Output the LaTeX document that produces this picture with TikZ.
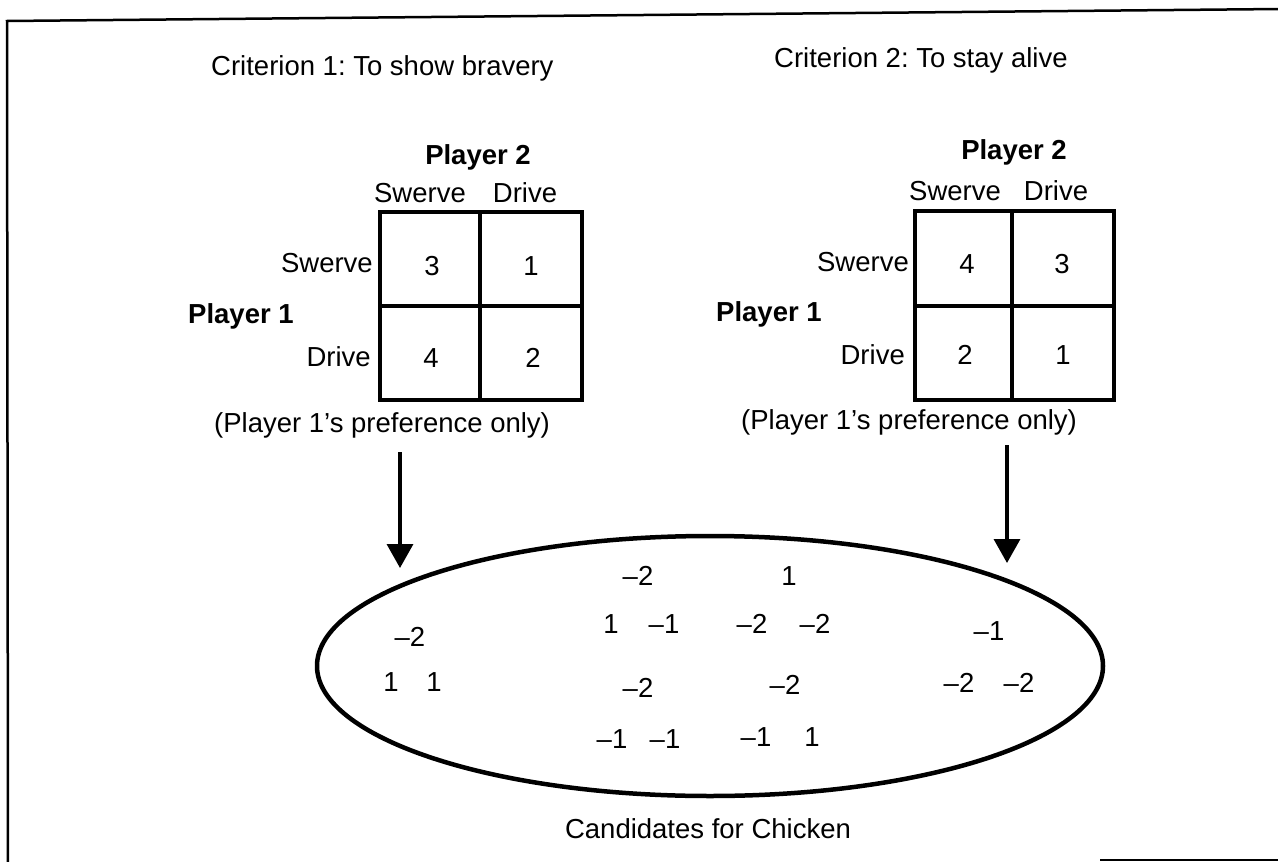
\documentclass[tikz,border=0pt]{standalone}
\usepackage{fontspec}
\setmainfont{Liberation Sans}
\usetikzlibrary{arrows.meta,shapes.geometric}
\frenchspacing
\begin{document}
\begin{tikzpicture}[x=1pt,y=-1pt,
  every node/.style={inner sep=0pt, font=\fontsize{27.5}{33}\selectfont},
  lbl/.style={anchor=base},
  bl/.style={anchor=base, font=\fontsize{27.5}{33}\selectfont\bfseries},
  grid/.style={line width=4pt},
  arr/.style={line width=3.5pt, -{Triangle[width=26pt,length=24pt]}},
  frame/.style={line width=2.5pt}]
\useasboundingbox (0,0) rectangle (1278,862);
% frame
\draw[frame] (1280,9) -- (7,21) -- (8,864);
\draw[frame] (1100,860) -- (1280,860);
% titles
\node[anchor=base west] (t1) at (211,75) {Criterion 1: To show bravery};
\node[anchor=base west] (t2) at (774,67) {Criterion 2: To stay alive};
% ---- left matrix
\node[bl] (lp2) at (478,164) {Player 2};
\node[lbl] (lcs) at (420,202) {Swerve};
\node[lbl] (lcd) at (525,202) {Drive};
\node[anchor=base east] (lrs) at (373,272) {Swerve};
\node[anchor=base east] (lrd) at (371,366) {Drive};
\node[bl, anchor=base west] (lp1) at (188,323) {Player 1};
\draw[grid] (380,212) rectangle (582,400);
\draw[grid] (480,212) -- (480,400);
\draw[grid] (380,306) -- (582,306);
\node[lbl] (l11) at (432,275) {3};
\node[lbl] (l12) at (531,275) {1};
\node[lbl] (l21) at (431,367) {4};
\node[lbl] (l22) at (533,367) {2};
\node[anchor=base west] (lpref) at (214,432) {(Player 1's preference only)};
% ---- right matrix
\node[bl] (rp2) at (1014,159) {Player 2};
\node[lbl] (rcs) at (955,200) {Swerve};
\node[lbl] (rcd) at (1056,200) {Drive};
\node[anchor=base east] (rrs) at (909,271) {Swerve};
\node[anchor=base east] (rrd) at (905,364) {Drive};
\node[bl, anchor=base west] (rp1) at (716,321) {Player 1};
\draw[grid] (915,211) rectangle (1114,400);
\draw[grid] (1012,211) -- (1012,400);
\draw[grid] (915,306) -- (1114,306);
\node[lbl] (r11) at (967,273) {4};
\node[lbl] (r12) at (1062,273) {3};
\node[lbl] (r21) at (965,364) {2};
\node[lbl] (r22) at (1063,364) {1};
\node[anchor=base west] (rpref) at (741,429) {(Player 1's preference only)};
% ---- arrows
\coordinate (a1s) at (400,452);
\coordinate (a1e) at (400,568);
\coordinate (a2s) at (1007,445);
\coordinate (a2e) at (1007,563);
\draw[arr] (a1s) -- (a1e);
\draw[arr] (a2s) -- (a2e);
% ---- ellipse
\node[draw, ellipse, line width=4.5pt, minimum width=786pt, minimum height=260pt] (cand) at (710,666) {};
\node[lbl] (e1) at (410,646) {--2};
\node[lbl] (e2) at (391,691) {1};
\node[lbl] (e3) at (434,691) {1};
\node[lbl] (e4) at (638,585) {--2};
\node[lbl] (e5) at (789,585) {1};
\node[lbl] (e6) at (611,633) {1};
\node[lbl] (e7) at (664,633) {--1};
\node[lbl] (e8) at (752,633) {--2};
\node[lbl] (e9) at (815,633) {--2};
\node[lbl] (e10) at (638,697) {--2};
\node[lbl] (e11) at (785,694) {--2};
\node[lbl] (e12) at (612,748) {--1};
\node[lbl] (e13) at (665,748) {--1};
\node[lbl] (e14) at (756,746) {--1};
\node[lbl] (e15) at (812,746) {1};
\node[lbl] (e16) at (989,640) {--1};
\node[lbl] (e17) at (959,692) {--2};
\node[lbl] (e18) at (1019,692) {--2};
\node[lbl] (cap) at (708,838) {Candidates for Chicken};
\end{tikzpicture}
\end{document}
